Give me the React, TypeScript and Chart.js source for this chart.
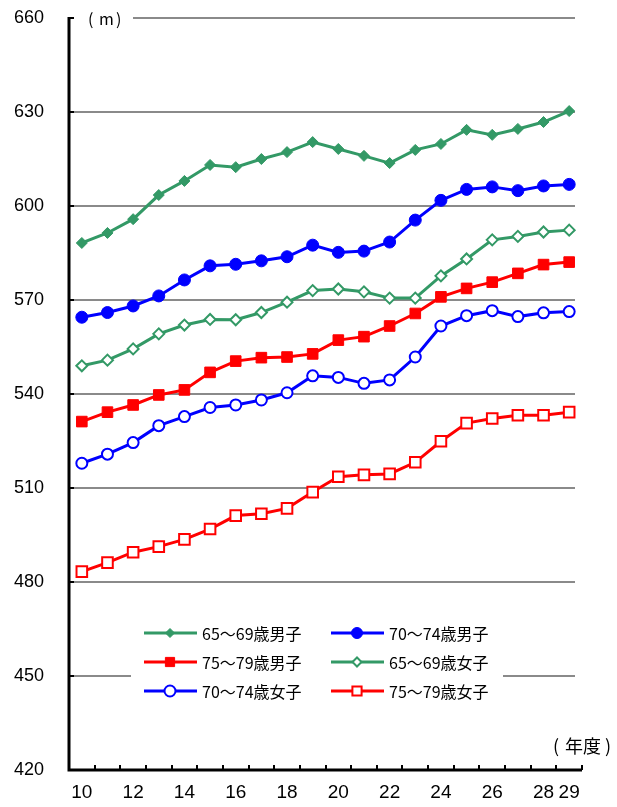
import React, { useEffect, useRef } from 'react';
import { Chart, registerables } from 'chart.js';
import { drawPoint } from 'chart.js/helpers';

Chart.register(...registerables);

const years = ['10', '11', '12', '13', '14', '15', '16', '17', '18', '19', '20', '21', '22', '23', '24', '25', '26', '27', '28', '29'];
const xTickLabels = ['10', '', '12', '', '14', '', '16', '', '18', '', '20', '', '22', '', '24', '', '26', '', '28', '29'];
const yTickValues = [420, 450, 480, 510, 540, 570, 600, 630, 660];

const seriesLabels = ['65～69歳男子', '70～74歳男子', '75～79歳男子', '65～69歳女子', '70～74歳女子', '75～79歳女子'];

const male6569 = [588.2, 591.4, 595.8, 603.5, 608.0, 613.1, 612.4, 615.0, 617.2, 620.4, 618.2, 616.0, 613.7, 617.9, 619.8, 624.3, 622.7, 624.6, 626.8, 630.3];
const male7074 = [564.5, 566.0, 568.1, 571.3, 576.4, 580.9, 581.4, 582.5, 583.8, 587.5, 585.2, 585.6, 588.5, 595.5, 601.8, 605.3, 606.1, 604.9, 606.4, 606.9];
const male7579 = [531.2, 534.2, 536.5, 539.7, 541.3, 546.9, 550.5, 551.6, 551.8, 552.8, 557.2, 558.3, 561.7, 565.7, 571.0, 573.7, 575.7, 578.5, 581.3, 582.1];
const female6569 = [549.0, 550.8, 554.4, 559.2, 562.0, 563.8, 563.7, 566.0, 569.3, 573.0, 573.5, 572.6, 570.6, 570.6, 577.7, 583.1, 589.2, 590.3, 591.7, 592.3];
const female7074 = [517.9, 520.8, 524.5, 529.9, 532.8, 535.7, 536.5, 538.1, 540.4, 545.8, 545.3, 543.4, 544.5, 551.8, 561.7, 565.0, 566.6, 564.7, 565.9, 566.3];
const female7579 = [483.3, 486.2, 489.5, 491.3, 493.6, 496.9, 501.2, 501.8, 503.5, 508.7, 513.6, 514.2, 514.5, 518.2, 524.9, 530.7, 532.2, 533.2, 533.2, 534.2];

const GREEN = '#339966';
const BLUE = '#0000FF';
const RED = '#FF0000';
const FONT = '"Noto Sans CJK JP", "Noto Sans", sans-serif';
const NUMFONT = '"Liberation Sans", Arial, sans-serif';
const NARROWFONT = '"Liberation Sans Narrow", "Liberation Sans", Arial, sans-serif';

const decorPlugin = {
  id: 'decor',
  beforeDatasetsDraw(chart: any) {
    const { ctx, chartArea, scales } = chart;
    const ys = scales.y;
    ctx.save();
    ctx.strokeStyle = '#8a8a8a';
    ctx.lineWidth = 2;
    yTickValues.forEach((v) => {
      if (v === 420) return;
      const py = Math.round(ys.getPixelForValue(v));
      const x0 = v === 660 ? chartArea.left + 64 : chartArea.left + 2;
      const x1 = chartArea.right - 7;
      if (v === 450) {
        ctx.beginPath();
        ctx.moveTo(x0, py);
        ctx.lineTo(chartArea.left + 62, py);
        ctx.moveTo(chartArea.left + 434, py);
        ctx.lineTo(x1, py);
        ctx.stroke();
      } else {
        ctx.beginPath();
        ctx.moveTo(x0, py);
        ctx.lineTo(x1, py);
        ctx.stroke();
      }
    });
    ctx.restore();
  },
  afterDatasetsDraw(chart: any) {
    const { ctx, chartArea, scales } = chart;
    const ys = scales.y;
    ctx.save();
    // axes
    ctx.strokeStyle = '#000';
    ctx.lineWidth = 3;
    ctx.beginPath();
    ctx.moveTo(chartArea.left, chartArea.top - 1);
    ctx.lineTo(chartArea.left, chartArea.bottom);
    ctx.lineTo(chartArea.right, chartArea.bottom);
    ctx.stroke();
    ctx.lineWidth = 2;
    yTickValues.forEach((v) => {
      const py = Math.round(ys.getPixelForValue(v));
      ctx.beginPath();
      ctx.moveTo(chartArea.left, py);
      ctx.lineTo(chartArea.left + 5, py);
      ctx.stroke();
    });
    const n = years.length;
    const step = (chartArea.right - chartArea.left) / n;
    for (let i = 1; i <= n; i++) {
      const px = Math.round(chartArea.left + i * step);
      ctx.beginPath();
      ctx.moveTo(px, chartArea.bottom);
      ctx.lineTo(px, chartArea.bottom - 5);
      ctx.stroke();
    }
    // unit labels
    ctx.fillStyle = '#000';
    ctx.font = `16px ${FONT}`;
    ctx.textBaseline = 'middle';
    ctx.textAlign = 'left';
    const ym = ys.getPixelForValue(660) + 1;
    ctx.fillText('(', chartArea.left + 19, ym);
    ctx.fillText('m', chartArea.left + 30, ym);
    ctx.fillText(')', chartArea.left + 47, ym);
    ctx.font = `18px ${FONT}`;
    const yn = chartArea.bottom - 24;
    ctx.fillText('(', 553, yn);
    ctx.fillText('年度', 565, yn);
    ctx.fillText(')', 605, yn);

    // legend
    ctx.fillStyle = '#fff';
    ctx.fillRect(chartArea.left + 62, 612, 372, 96);
    const colLine = [144, 331];
    const rowY = [633, 662, 691];
    const legendRadius = [4.5, 5.5, 6.5, 4.5, 5.5, 6.5];
    chart.data.datasets.forEach((ds: any, i: number) => {
      const col = i % 2;
      const row = Math.floor(i / 2);
      const x0 = colLine[col];
      const y = rowY[row];
      ctx.strokeStyle = ds.borderColor;
      ctx.lineWidth = 3;
      ctx.beginPath();
      ctx.moveTo(x0, y);
      ctx.lineTo(x0 + 53, y);
      ctx.stroke();
      ctx.fillStyle = ds.pointBackgroundColor;
      ctx.strokeStyle = ds.pointBorderColor;
      ctx.lineWidth = ds.pointBorderWidth;
      drawPoint(ctx, { pointStyle: ds.pointStyle, radius: legendRadius[i], rotation: 0, borderWidth: ds.pointBorderWidth }, x0 + 26, y);
      ctx.fillStyle = '#000';
      ctx.font = `16px ${FONT}`;
      ctx.textAlign = 'left';
      ctx.textBaseline = 'middle';
      ctx.fillText(ds.label, x0 + 58, y + 1);
    });
    ctx.restore();
  },
};

function makeDataset(label: string, data: number[], color: string, style: string, filled: boolean, radius: number) {
  return {
    label,
    data,
    borderColor: color,
    backgroundColor: color,
    borderWidth: 3,
    pointStyle: style,
    pointRadius: radius,
    pointHoverRadius: radius,
    pointBackgroundColor: filled ? color : '#ffffff',
    pointBorderColor: color,
    pointBorderWidth: filled ? 1 : 2,
    tension: 0,
  };
}

export default function App() {
  const canvasRef = useRef<HTMLCanvasElement | null>(null);

  useEffect(() => {
    if (!canvasRef.current) return;
    const chart = new Chart(canvasRef.current, {
      type: 'line',
      data: {
        labels: years,
        datasets: [
          makeDataset(seriesLabels[0], male6569, GREEN, 'rectRot', true, 5.5),
          makeDataset(seriesLabels[1], male7074, BLUE, 'circle', true, 6),
          makeDataset(seriesLabels[2], male7579, RED, 'rect', true, 7.5),
          makeDataset(seriesLabels[3], female6569, GREEN, 'rectRot', false, 5.5),
          makeDataset(seriesLabels[4], female7074, BLUE, 'circle', false, 5.5),
          makeDataset(seriesLabels[5], female7579, RED, 'rect', false, 7.5),
        ] as any,
      },
      options: {
        animation: false,
        responsive: false,
        maintainAspectRatio: false,
        layout: { padding: { top: 18, right: 35, left: 0, bottom: 0 } },
        plugins: {
          legend: { display: false },
          tooltip: { enabled: false },
          title: { display: false },
        },
        scales: {
          x: {
            type: 'category',
            offset: true,
            grid: { display: false },
            border: { display: false },
            ticks: {
              autoSkip: false,
              maxRotation: 0,
              padding: 3,
              color: '#000',
              font: { family: NARROWFONT, size: 19 },
              callback: (_v: any, i: number) => xTickLabels[i],
            },
            afterFit: (scale: any) => {
              scale.height = 37;
              scale.paddingLeft = 0;
              scale.paddingRight = 0;
            },
          },
          y: {
            min: 420,
            max: 660,
            grid: { display: false },
            border: { display: false },
            ticks: {
              stepSize: 30,
              padding: 17,
              color: '#000',
              font: { family: NUMFONT, size: 18 },
            },
            afterFit: (scale: any) => {
              scale.width = 69;
              scale.paddingTop = 0;
              scale.paddingBottom = 0;
            },
          },
        },
      },
      plugins: [decorPlugin],
    });
    return () => chart.destroy();
  }, []);

  return (
    <div style={{ position: 'absolute', left: 0, top: 0, width: 617, height: 807, background: '#fff' }}>
      <canvas ref={canvasRef} width={617} height={807} style={{ width: 617, height: 807, display: 'block' }} />
    </div>
  );
}
